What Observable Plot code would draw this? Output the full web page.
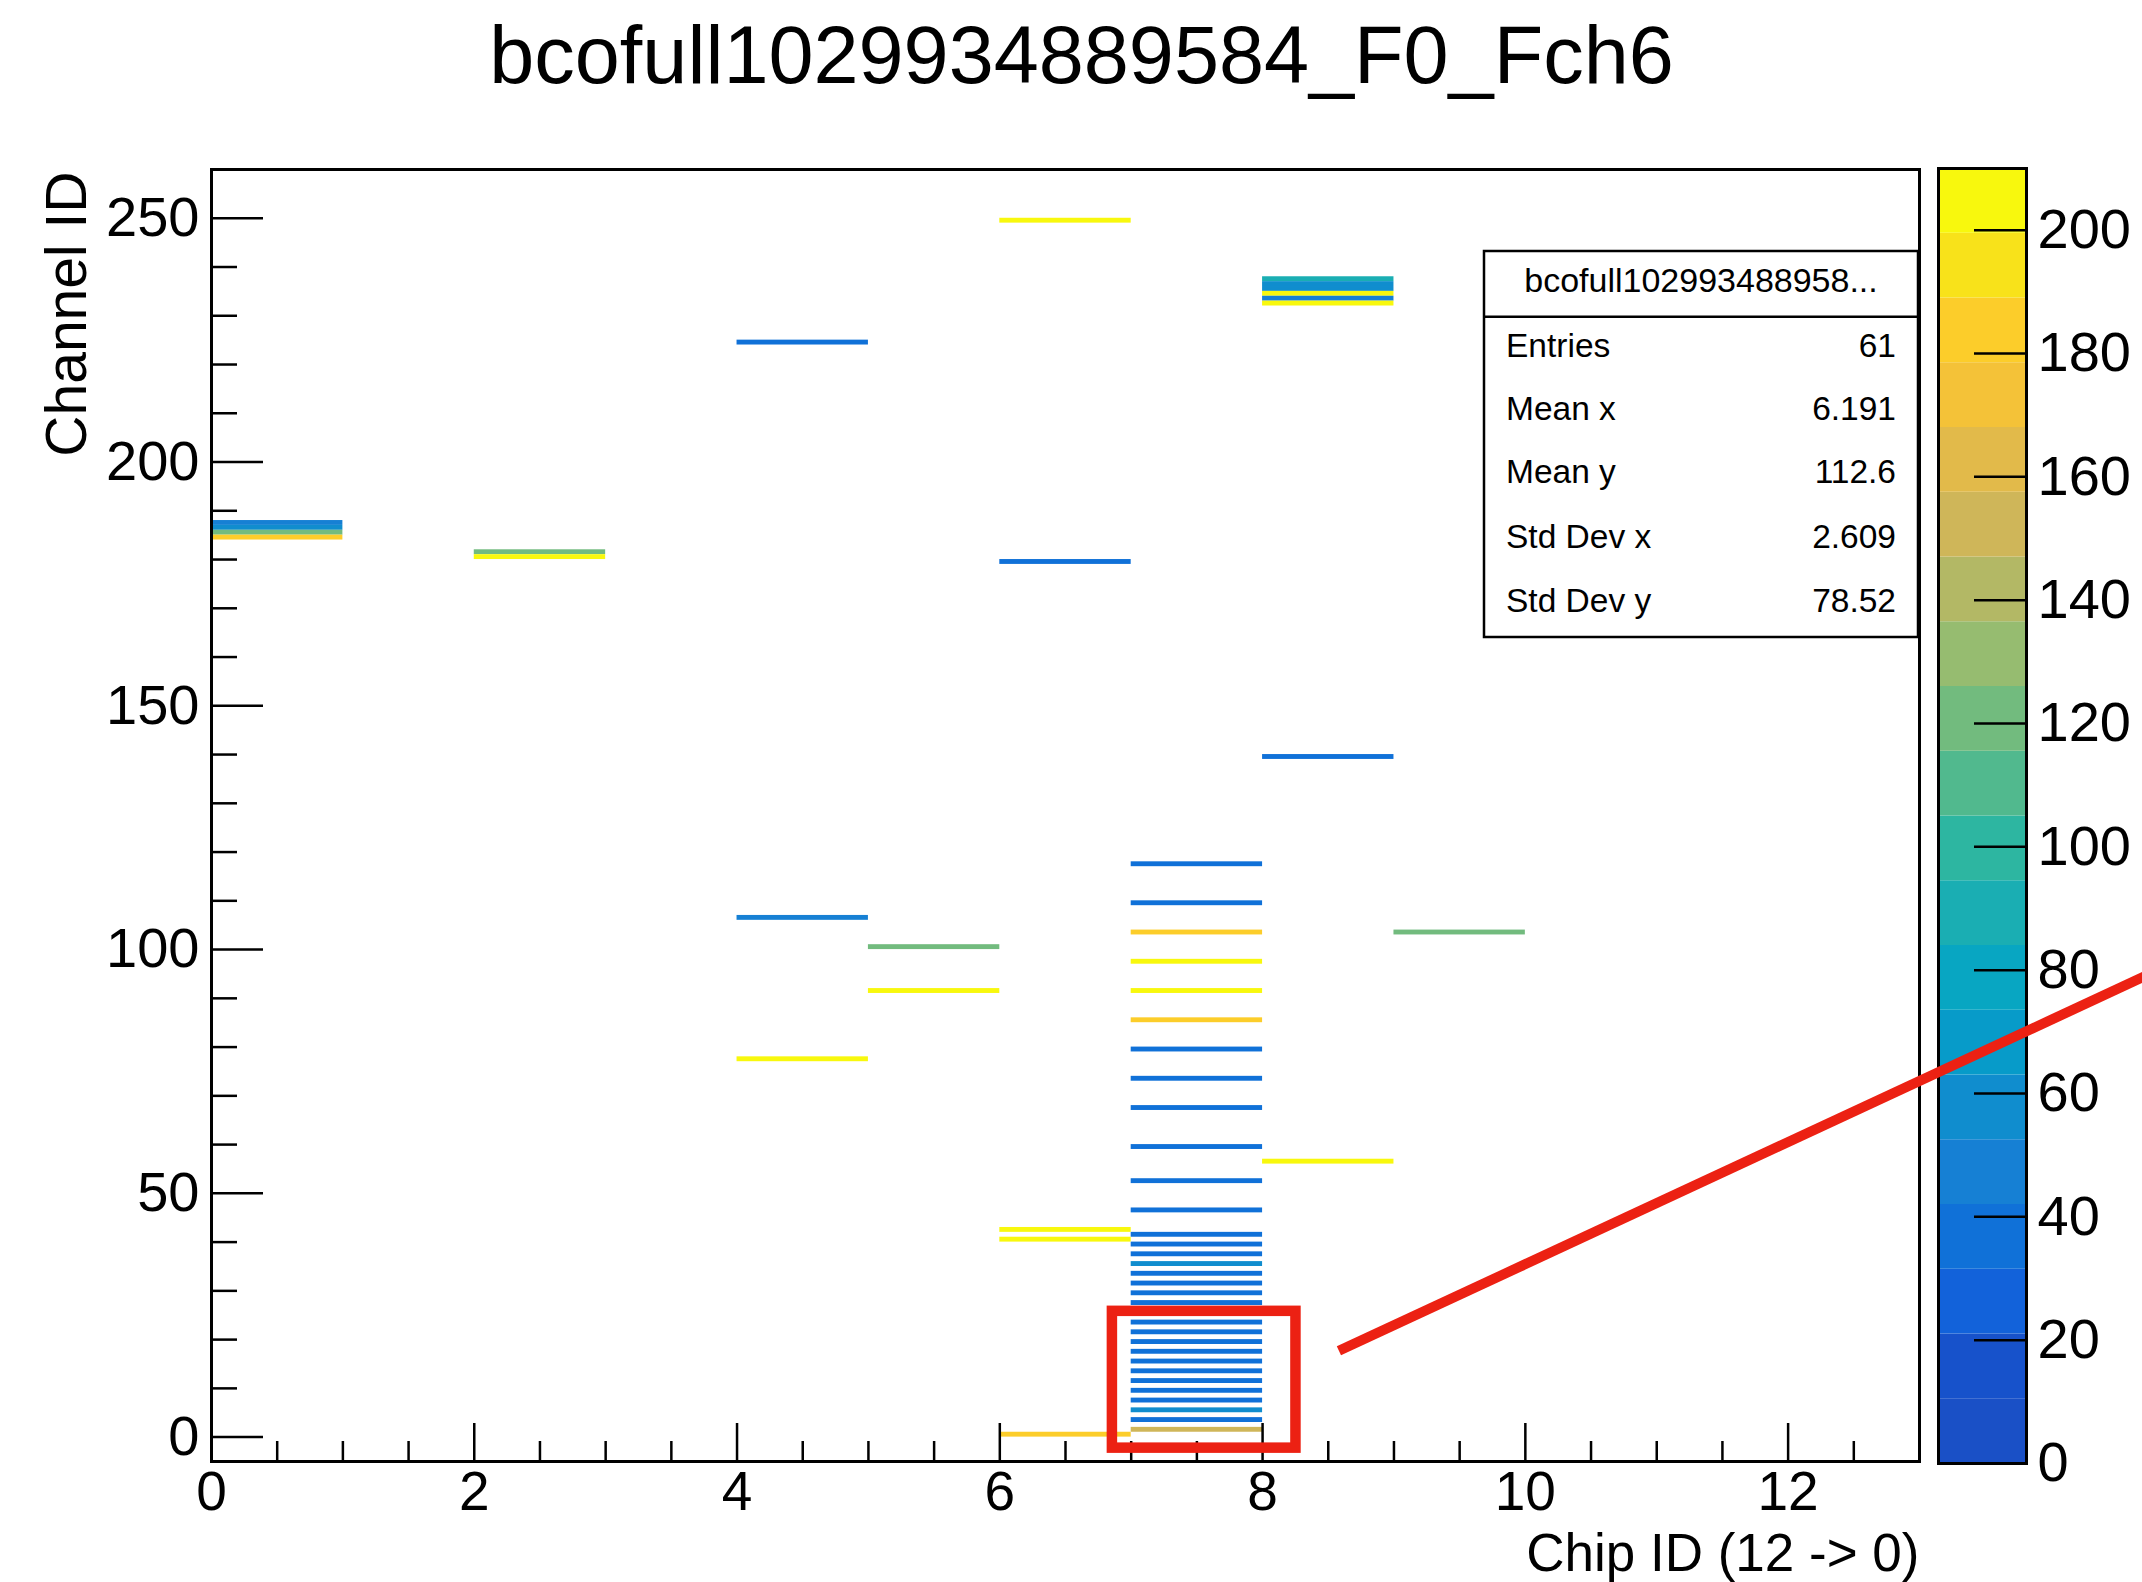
<!DOCTYPE html>
<html>
<head>
<meta charset="utf-8">
<script src="https://cdn.jsdelivr.net/npm/d3@7"></script>
<script src="https://cdn.jsdelivr.net/npm/@observablehq/plot@0.6"></script>
<style>
html, body { margin: 0; padding: 0; background: #fff; }
#chart { position: relative; width: 2142px; height: 1582px; overflow: hidden; background: #fff; }
#chart > svg { position: absolute; }
</style>
</head>
<body>
<div id="chart"></div>
<script>
// ---------------- data ----------------
const titleText = "bcofull1029934889584_F0_Fch6";
const xLabel = "Chip ID (12 -> 0)";
const yLabel = "Channel ID";

const xMajor = [0, 2, 4, 6, 8, 10, 12];
const xMinor = [0.5, 1, 1.5, 2.5, 3, 3.5, 4.5, 5, 5.5, 6.5, 7, 7.5, 8.5, 9, 9.5, 10.5, 11, 11.5, 12.5];
const yMajor = [0, 50, 100, 150, 200, 250];
const yMinor = [10, 20, 30, 40, 60, 70, 80, 90, 110, 120, 130, 140, 160, 170, 180, 190, 210, 220, 230, 240];
const zTicks = [0, 20, 40, 60, 80, 100, 120, 140, 160, 180, 200];

// one entry per filled bin: chip (x bin low edge), channel (y bin low edge), content
const binChip = [
  0, 0, 0, 0,
  2, 2,
  4, 4, 4,
  5, 5,
  6, 6, 6, 6, 6,
  7, 7, 7, 7, 7, 7, 7, 7, 7, 7, 7, 7, 7, 7, 7, 7, 7, 7, 7, 7, 7, 7, 7, 7, 7, 7, 7, 7, 7, 7, 7, 7, 7,
  8, 8, 8, 8, 8, 8, 8, 8,
  9
];
const binChannel = [
  187, 186, 185, 184,
  181, 180,
  224, 106, 77,
  100, 91,
  249, 179, 42, 40, 0,
  117, 109, 103, 97, 91, 85, 79, 73, 67, 59, 52, 46, 41, 39, 37, 35, 33, 31, 29, 27, 25, 23, 21, 19, 17, 15, 13, 11, 9, 7, 5, 3, 1,
  237, 236, 235, 234, 233, 232, 139, 56,
  103
];
const binValue = [
  47, 58, 120, 183,
  120, 205,
  37, 47, 205,
  120, 205,
  205, 37, 205, 205, 183,
  37, 37, 183, 205, 205, 183, 37, 37, 37, 37, 37, 37, 37, 37, 37, 58, 37, 37, 37, 37, 37, 37, 37, 37, 37, 37, 37, 37, 37, 37, 58, 37, 150,
  90, 58, 58, 205, 47, 205, 40, 205,
  120
];

// palette contour colours (bottom to top)
const paletteColors = [
  "#1a50c6", "#1752cb", "#1262da", "#1071d8", "#1680d4",
  "#108dce", "#079bc9", "#08a6c2", "#1aaeb3", "#2db6a1",
  "#51b98e", "#72bb7e", "#96bc70", "#b3b865", "#cfb659",
  "#e2ba4a", "#f4c238", "#fccd2a", "#f8e21a", "#f8f80d"
];
const zMin = 0, zMax = 210;

// stats box
const statsTitle = "bcofull102993488958...";
const statsLabels = ["Entries", "Mean x", "Mean y", "Std Dev x", "Std Dev y"];
const statsValues = ["61", "6.191", "112.6", "2.609", "78.52"];

// red annotation (data units)
const annotBox = [{x1: 6.857, x2: 8.254, y1: -2.26, y2: 25.8}];
const annotLine = [{x1: 8.581, y1: 17.7, x2: 15.0, y2: 98.1}];

// ---------------- layout ----------------
const FONT = '"Liberation Sans", Arial, Helvetica, sans-serif';
const W = 2142, H = 1582;
const fr = {left: 211, right: 1919, top: 169, bottom: 1461};
const innerW = fr.right - fr.left, innerH = fr.bottom - fr.top;
const nBands = paletteColors.length;
const bandW = (zMax - zMin) / nBands;
const thresholds = d3.range(1, nBands).map(i => zMin + i * bandW);
const colorScale = {type: "threshold", domain: thresholds, range: paletteColors};

const bins = binChip.map((c, i) => ({chip: c, ch: binChannel[i], z: binValue[i]}));
const bands = paletteColors.map((c, i) => ({lo: zMin + i * bandW, hi: zMin + (i + 1) * bandW}));

const RED = "#ec2113";

const chart = document.getElementById("chart");

// colour bar
const cbLeft = 1938, cbRight = 2026, cbTop = 168, cbBottom = 1463;
const cbW = W - cbLeft;
const cbar = Plot.plot({
  width: cbW, height: H,
  marginLeft: 0, marginRight: cbW - (cbRight - cbLeft), marginTop: cbTop, marginBottom: H - cbBottom,
  style: {background: "transparent", fontFamily: FONT, overflow: "visible"},
  x: {axis: null},
  y: {domain: [zMin, zMax], axis: null},
  color: colorScale,
  marks: [
    Plot.rect(bands, {y1: "lo", y2: "hi", fill: d => (d.lo + d.hi) / 2}),
    Plot.tickY(zTicks.filter(t => t > zMin), {y: d => d, insetLeft: (cbRight - cbLeft) - 52, stroke: "black", strokeWidth: 2.5}),
    Plot.frame({stroke: "black", strokeWidth: 3}),
    Plot.axisY(zTicks, {anchor: "right", tickSize: 0, tickPadding: 11, fontSize: 56, label: null, tickFormat: d => String(d), fill: "black"})
  ]
});
cbar.style.left = cbLeft + "px";
cbar.style.top = "0px";
chart.appendChild(cbar);

// stats box (plain SVG via d3)
const sbX = 1480, sbY = 247;
const sb = d3.create("svg")
  .attr("width", 444).attr("height", 396)
  .style("left", sbX + "px").style("top", sbY + "px")
  .style("font-family", FONT);
sb.append("rect").attr("x", 1484 - sbX).attr("y", 251 - sbY).attr("width", 434).attr("height", 386)
  .attr("fill", "white").attr("stroke", "black").attr("stroke-width", 2.5);
sb.append("line").attr("x1", 1484 - sbX).attr("x2", 1918 - sbX).attr("y1", 316.7 - sbY).attr("y2", 316.7 - sbY)
  .attr("stroke", "black").attr("stroke-width", 2.5);
sb.append("text").attr("x", 1701 - sbX).attr("y", 292 - sbY).attr("text-anchor", "middle")
  .attr("font-size", 34).text(statsTitle);
const rowBase = [357, 420, 483, 548, 612];
statsLabels.forEach((lab, i) => {
  sb.append("text").attr("x", 1506 - sbX).attr("y", rowBase[i] - sbY).attr("font-size", 33.5).text(lab);
  sb.append("text").attr("x", 1896 - sbX).attr("y", rowBase[i] - sbY).attr("text-anchor", "end")
    .attr("font-size", 33.5).text(statsValues[i]);
});
chart.appendChild(sb.node());

// main histogram
const main = Plot.plot({
  width: W, height: H,
  marginLeft: fr.left, marginRight: W - fr.right, marginTop: fr.top, marginBottom: H - fr.bottom,
  style: {background: "transparent", fontFamily: FONT, overflow: "visible", pointerEvents: "none"},
  x: {domain: [0, 13], axis: null},
  y: {domain: [-5, 260], axis: null},
  color: colorScale,
  marks: [
    Plot.rect(bins, {x1: "chip", x2: d => d.chip + 1, y1: "ch", y2: d => d.ch + 1, fill: "z"}),
    Plot.tickY(yMajor, {y: d => d, insetRight: innerW - 52, stroke: "black", strokeWidth: 2.5}),
    Plot.tickY(yMinor, {y: d => d, insetRight: innerW - 26, stroke: "black", strokeWidth: 2.5}),
    Plot.tickX(xMajor, {x: d => d, insetTop: innerH - 38, stroke: "black", strokeWidth: 2.5}),
    Plot.tickX(xMinor, {x: d => d, insetTop: innerH - 20, stroke: "black", strokeWidth: 2.5}),
    Plot.frame({stroke: "black", strokeWidth: 3}),
    Plot.axisY(yMajor, {tickSize: 0, tickPadding: 12, fontSize: 56, label: null, tickFormat: d => String(d), fill: "black"}),
    Plot.axisX(xMajor, {tickSize: 0, tickPadding: 9, fontSize: 55, label: null, tickFormat: d => String(d), fill: "black"}),
    Plot.text([yLabel], {text: d => d, frameAnchor: "top-left", rotate: -90, textAnchor: "end", lineAnchor: "bottom",
      dx: 85 - fr.left, dy: 2, fontSize: 57, fill: "black"}),
    Plot.text([xLabel], {text: d => d, frameAnchor: "bottom-right", textAnchor: "end", lineAnchor: "bottom",
      dy: 109, fontSize: 53, fill: "black"}),
    Plot.text([titleText], {text: d => d, frameAnchor: "top", lineAnchor: "bottom",
      dx: 16, dy: 82 - fr.top, fontSize: 81, fill: "black"}),
    Plot.rect(annotBox, {x1: "x1", x2: "x2", y1: "y1", y2: "y2", fill: "none", stroke: RED, strokeWidth: 10.5}),
    Plot.link(annotLine, {x1: "x1", y1: "y1", x2: "x2", y2: "y2", stroke: RED, strokeWidth: 10, strokeLinecap: "butt"})
  ]
});
main.style.left = "0px";
main.style.top = "0px";
chart.appendChild(main);
</script>
</body>
</html>
